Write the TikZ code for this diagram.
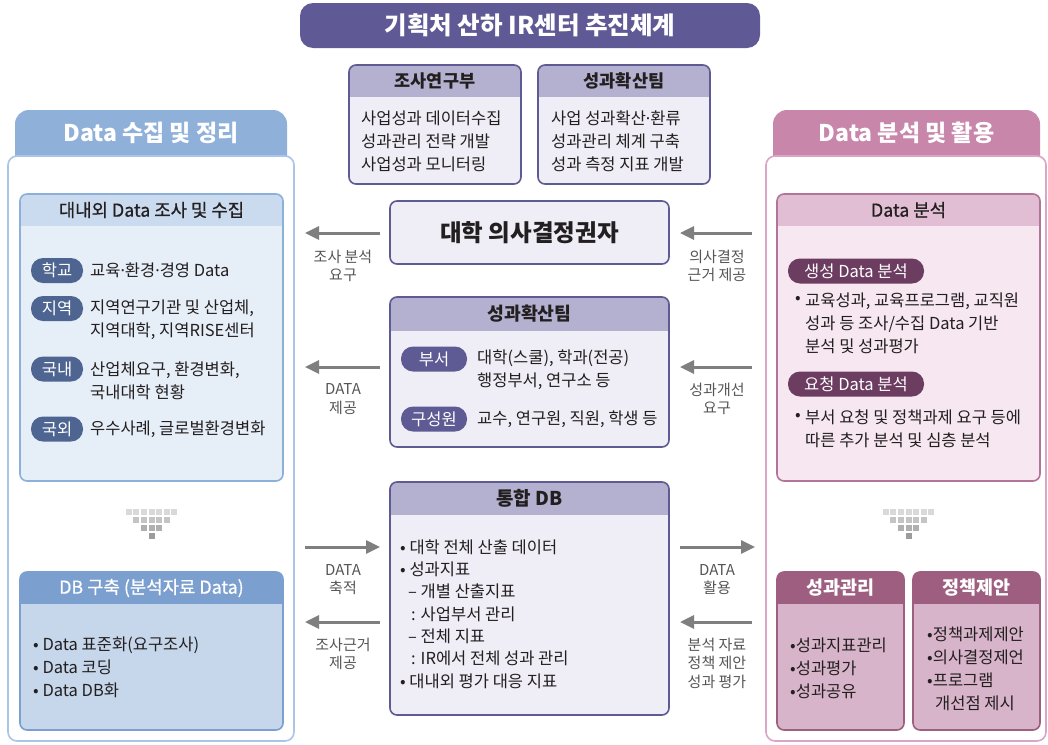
\documentclass[tikz,border=0pt]{standalone}
\usepackage{fontspec}
\setmainfont{Noto Sans CJK KR}
\newfontfamily\medf{Noto Sans CJK KR}[FakeBold=0.6]
\newfontfamily\latf{Noto Sans}
\newcommand\MD{{\latf\char"00B7}}
\usetikzlibrary{arrows.meta}
\definecolor{titleP}{HTML}{5F5A95}
\definecolor{boxP}{HTML}{5E5A94}
\definecolor{hdrP}{HTML}{B3B1CF}
\definecolor{bodyP}{HTML}{EFEEF6}
\definecolor{tabL}{HTML}{8FB0D9}
\definecolor{panL}{HTML}{A9C6E8}
\definecolor{brdL}{HTML}{8DB0DB}
\definecolor{hdrL}{HTML}{CBDBEF}
\definecolor{bodyL}{HTML}{E6EEF7}
\definecolor{badgeL}{HTML}{4E6592}
\definecolor{hdrLtwo}{HTML}{7B9FCE}
\definecolor{bodyLtwo}{HTML}{C6D7EB}
\definecolor{tabR}{HTML}{C986AB}
\definecolor{panR}{HTML}{DBA5C5}
\definecolor{brdR}{HTML}{B27498}
\definecolor{hdrR}{HTML}{E2BED4}
\definecolor{bodyR}{HTML}{F6E7F0}
\definecolor{pillR}{HTML}{6C3D61}
\definecolor{hdrRtwo}{HTML}{9E5E80}
\definecolor{bodyRtwo}{HTML}{D7B4C9}
\definecolor{arrG}{HTML}{7F7F7F}
\definecolor{labG}{HTML}{555555}
\definecolor{txt}{HTML}{231F20}
\newcommand\FS[2]{\fontsize{#1}{#2}\selectfont}
\newcommand\HBox[8]{%
 \begin{scope}
  \clip[rounded corners=7pt] (#1,#2) rectangle (#3,#4);
  \fill[#6] (#1,#2) rectangle (#3,#4);
  \fill[#7] (#1,#2) rectangle (#3,{#2+#5});
 \end{scope}
 \draw[#8, line width=1.6pt, rounded corners=7pt] (#1,#2) rectangle (#3,#4);
}
\newcommand\Dots[2]{%
 \foreach \r/\n/\c in {0/7/black!15, 1/5/black!23, 2/3/black!31, 3/1/black!39} {
   \foreach \i in {1,...,\n} {
     \fill[\c] ({#1 + (\i - (\n+1)/2)*7.6 - 3}, {#2 + \r*8 - 3}) rectangle ++(6,6);
   }
 }
}
\tikzset{
 body/.style={font=\FS{16.5}{23}, text=txt, inner sep=0pt, align=left, anchor=west},
 hdr/.style={font=\FS{17.5}{20}\bfseries, text=txt, inner sep=0pt},
 hdrm/.style={font=\FS{17.8}{20}\medf, text=txt, inner sep=0pt},
 pill/.style={rounded corners=12pt, inner sep=0pt, text=white, font=\FS{16.5}{18}, minimum height=25pt},
 lab/.style={font=\FS{15}{18.5}, text=labG, align=center, inner sep=0pt},
 arr/.style={draw=arrG, line width=3pt, -{Triangle[length=14pt,width=13pt]}},
 tab/.style={font=\FS{23}{26}\bfseries, text=white, inner sep=0pt},
}
\begin{document}
\begin{tikzpicture}[x=1pt,y=-1pt]
\useasboundingbox (0,0) rectangle (1048,744);
\fill[white] (0,0) rectangle (1048,744);

% title
\node[fill=titleP, rounded corners=13pt, minimum width=460pt, minimum height=45pt, text=white, font=\FS{24.5}{28}\bfseries] (title) at (530,25.5) {기획처 산하 IR센터 추진체계};

% top boxes
\HBox{349}{65}{521}{184}{32}{bodyP}{hdrP}{boxP}
\node[hdr] (aT) at (435,81) {조사연구부};
\node[body] (aB) at (361,141) {사업성과 데이터수집\\성과관리 전략 개발\\사업성과 모니터링};
\HBox{538}{65}{710}{184}{32}{bodyP}{hdrP}{boxP}
\node[hdr] (bT) at (624,81) {성과확산팀};
\node[body] (bB) at (551,141) {사업 성과확산\MD 환류\\성과관리 체계 구축\\성과 측정 지표 개발};

% decision maker
\node[draw=boxP, fill=bodyP, line width=1.6pt, rounded corners=7pt, minimum width=279pt, minimum height=63pt, font=\FS{23.5}{26}\bfseries, text=txt] (dm) at (529.5,232.5) {대학 의사결정권자};

% middle team
\HBox{390}{297}{669}{447}{34}{bodyP}{hdrP}{boxP}
\node[hdr, font=\FS{18.3}{20}\bfseries] (dT) at (529.5,314) {성과확산팀};
\node[pill, fill=boxP, minimum width=66pt] (p1) at (434,359) {부서};
\node[body] (p1t) at (477,369.5) {대학(스쿨), 학과(전공)\\행정부서, 연구소 등};
\node[pill, fill=boxP, minimum width=66pt] (p2) at (434,419) {구성원};
\node[body] (p2t) at (477,419) {교수, 연구원, 직원, 학생 등};

% integrated DB
\HBox{390}{482}{669}{715}{33}{bodyP}{hdrP}{boxP}
\node[hdr, font=\FS{19}{20}\bfseries] (eT) at (529.5,498.5) {통합 DB};
\node[body, font=\FS{16.5}{22.3}] (eB) at (400,614) {• 대학 전체 산출 데이터\\• 성과지표\\\hspace*{8pt}– 개별 산출지표\\\hspace*{11pt}: 사업부서 관리\\\hspace*{8pt}– 전체 지표\\\hspace*{11pt}: IR에서 전체 성과 관리\\• 대내외 평가 대응 지표};

% left panel
\fill[tabL, rounded corners=14pt] (15,110) rectangle (287,170);
\draw[panL, fill=white, line width=1.6pt, rounded corners=9pt] (8,156) rectangle (294,741);
\node[tab] (tl) at (151,133) {Data 수집 및 정리};

\HBox{20}{194}{283}{481}{32}{bodyL}{hdrL}{brdL}
\node[hdrm] (fT) at (151.5,210) {대내외 Data 조사 및 수집};
\node[pill, fill=badgeL, minimum width=52pt] (k1) at (57,270.5) {학교};
\node[body] (k1t) at (90,270) {교육\MD 환경\MD 경영 Data};
\node[pill, fill=badgeL, minimum width=52pt] (k2) at (57,308.5) {지역};
\node[body] (k2t) at (90,319.5) {지역연구기관 및 산업체,\\지역대학, 지역RISE센터};
\node[pill, fill=badgeL, minimum width=52pt] (k3) at (57,369) {국내};
\node[body] (k3t) at (90,380.5) {산업체요구, 환경변화,\\국내대학 현황};
\node[pill, fill=badgeL, minimum width=52pt] (k4) at (57,429) {국외};
\node[body] (k4t) at (90,429) {우수사례, 글로벌환경변화};

\Dots{151.5}{512}

\HBox{20}{572}{283}{730}{32}{bodyLtwo}{hdrLtwo}{hdrLtwo}
\node[hdrm, text=white] (gT) at (151.5,588) {DB 구축 (분석자료 Data)};
\node[body] (gB) at (33,667.5) {• Data 표준화(요구조사)\\• Data 코딩\\• Data DB화};

% right panel
\fill[tabR, rounded corners=14pt] (773,110) rectangle (1040,170);
\draw[panR, fill=white, line width=1.6pt, rounded corners=9pt] (766,156) rectangle (1046,741);
\node[tab] (tr) at (906.5,133) {Data 분석 및 활용};

\HBox{777}{194}{1040}{481}{32}{bodyR}{hdrR}{brdR}
\node[hdrm] (hT) at (908.5,210) {Data 분석};
\node[pill, fill=pillR, minimum width=136pt] (q1) at (856,271) {생성 Data 분석};
\node[body] (q1b) at (795,300) {•};
\node[body] (q1t) at (805,323.5) {교육성과, 교육프로그램, 교직원\\성과 등 조사/수집 Data 기반\\분석 및 성과평가};
\node[pill, fill=pillR, minimum width=136pt] (q2) at (856,384) {요청 Data 분석};
\node[body] (q2b) at (795,417) {•};
\node[body] (q2t) at (805,428.5) {부서 요청 및 정책과제 요구 등에\\따른 추가 분석 및 심층 분석};

\Dots{908.5}{512}

\HBox{777}{572}{904}{730}{32}{bodyRtwo}{hdrRtwo}{hdrRtwo}
\node[hdr, text=white, font=\FS{18.5}{20}\bfseries] (iT) at (840.5,588) {성과관리};
\node[body] (iB) at (790,668.5) {•성과지표관리\\•성과평가\\•성과공유};
\HBox{913}{572}{1040}{730}{32}{bodyRtwo}{hdrRtwo}{hdrRtwo}
\node[hdr, text=white, font=\FS{18.5}{20}\bfseries] (jT) at (976.5,588) {정책제안};
\node[body] (jB) at (927,669) {•정책과제제안\\•의사결정제언\\•프로그램\\\hspace*{8pt}개선점 제시};

% arrows left
\coordinate (a1s) at (380,233); \coordinate (a1e) at (305,233);
\coordinate (a2s) at (380,367); \coordinate (a2e) at (305,367);
\coordinate (a3s) at (305,547); \coordinate (a3e) at (380,547);
\coordinate (a4s) at (380,622); \coordinate (a4e) at (305,622);
\draw[arr] (a1s) -- (a1e);
\draw[arr] (a2s) -- (a2e);
\draw[arr] (a3s) -- (a3e);
\draw[arr] (a4s) -- (a4e);
\node[lab] (a1l) at (343,266) {조사 분석\\요구};
\node[lab] (a2l) at (343,399) {DATA\\제공};
\node[lab] (a3l) at (343,579.5) {DATA\\축적};
\node[lab] (a4l) at (343,654) {조사근거\\제공};

% arrows right
\coordinate (b1s) at (752,233); \coordinate (b1e) at (680,233);
\coordinate (b2s) at (752,367); \coordinate (b2e) at (680,367);
\coordinate (b3s) at (680,547); \coordinate (b3e) at (755,547);
\coordinate (b4s) at (752,622); \coordinate (b4e) at (680,622);
\draw[arr] (b1s) -- (b1e);
\draw[arr] (b2s) -- (b2e);
\draw[arr] (b3s) -- (b3e);
\draw[arr] (b4s) -- (b4e);
\node[lab] (b1l) at (717,266) {의사결정\\근거 제공};
\node[lab] (b2l) at (717,399) {성과개선\\요구};
\node[lab] (b3l) at (717,579.5) {DATA\\활용};
\node[lab] (b4l) at (717,663) {분석 자료\\정책 제안\\성과 평가};
\end{tikzpicture}
\end{document}
